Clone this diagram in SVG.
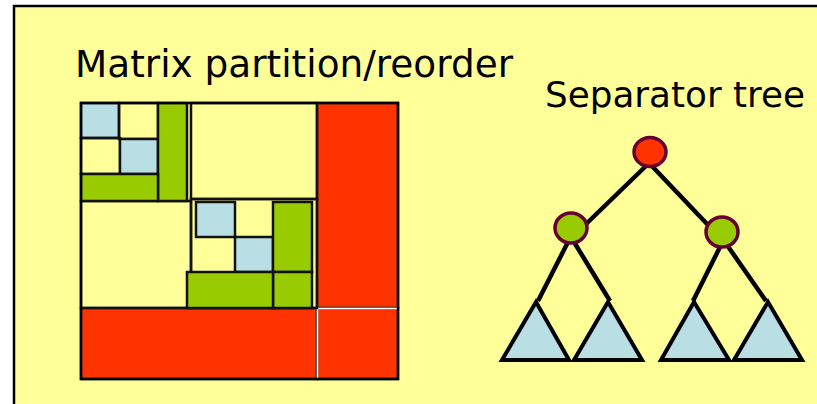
<svg xmlns="http://www.w3.org/2000/svg" width="817" height="404" viewBox="0 0 817 404">
<style>
.t{font-family:"Comic Sans MS","DejaVu Sans","Noto Sans",sans-serif;fill:#000}
.c{stroke:#111;stroke-width:2.5}
.b{fill:#B9DFE5}
.g{fill:#99CC00}
.r{fill:#FF3300;stroke:#333;stroke-width:2.5}
.y{fill:none}
.n{stroke:#660033;stroke-width:3.5}
.e{stroke:#000;stroke-width:4.5;fill:none}
.tri{fill:#B9DFE5;stroke:#000;stroke-width:4;stroke-linejoin:miter}
</style>
<rect x="0" y="0" width="817" height="404" fill="#fff"/>
<rect x="14" y="6" width="820" height="420" fill="#FFFF99" stroke="#000" stroke-width="2.5"/>
<text class="t" x="75" y="77" font-size="37" textLength="438" lengthAdjust="spacingAndGlyphs">Matrix partition/reorder</text>
<text class="t" x="545" y="107" font-size="35" textLength="260" lengthAdjust="spacingAndGlyphs">Separator tree</text>
<g id="matrix">
<rect class="r" x="317" y="103" width="81" height="205"/>
<rect class="r" x="81" y="308" width="236" height="71"/>
<rect class="r" x="317" y="308" width="81" height="71"/>
<line x1="317.5" y1="309" x2="317.5" y2="378" stroke="#fff" stroke-width="1.5"/>
<line x1="318" y1="308.5" x2="397" y2="308.5" stroke="#fff" stroke-width="1.5"/>
<rect class="y c" x="191" y="103" width="126" height="96"/>
<rect class="y c" x="81" y="201" width="110" height="107"/>
<rect class="y c" x="191" y="199" width="126" height="109"/>
<g id="block1">
<rect class="b c" x="81" y="103" width="38" height="35"/>
<rect class="y c" x="119" y="103" width="39" height="36"/>
<rect class="y c" x="81" y="138" width="39" height="36"/>
<rect class="b c" x="120" y="139" width="38" height="35"/>
<rect class="g c" x="158" y="103" width="29" height="98"/>
<rect class="g c" x="81" y="174" width="77" height="27"/>
</g>
<g id="block2">
<rect class="b c" x="196" y="202" width="39" height="35"/>
<rect class="b c" x="235" y="237" width="38" height="35"/>
<rect class="g c" x="273" y="202" width="39" height="70"/>
<rect class="g c" x="273" y="272" width="39" height="36"/>
<rect class="g c" x="187" y="272" width="86" height="36"/>
</g>
<rect x="81" y="103" width="317" height="276" fill="none" stroke="#000" stroke-width="2.5"/>
</g>
<g id="connectors">
<line class="e" x1="648" y1="164" x2="584" y2="226"/>
<line class="e" x1="650" y1="164" x2="708" y2="225"/>
<line class="e" x1="568" y1="242" x2="538" y2="301"/>
<line class="e" x1="574" y1="242" x2="610" y2="301"/>
<line class="e" x1="721" y1="245" x2="693" y2="301"/>
<line class="e" x1="727" y1="245" x2="766" y2="301"/>
</g>
<g id="root"><ellipse class="n" cx="650" cy="152" rx="16" ry="14.5" fill="#FF3300"/></g>
<g id="left"><ellipse class="n" cx="571" cy="228" rx="16" ry="15" fill="#99CC00"/></g>
<g id="right"><ellipse class="n" cx="722" cy="232" rx="16" ry="15" fill="#99CC00"/></g>
<g id="t1"><polygon class="tri" points="536,302 569,360 502,360"/></g>
<g id="t2"><polygon class="tri" points="608,302 642,360 574,360"/></g>
<g id="t3"><polygon class="tri" points="694,302 729,360 661,360"/></g>
<g id="t4"><polygon class="tri" points="768,302 802,360 734,360"/></g>
</svg>
